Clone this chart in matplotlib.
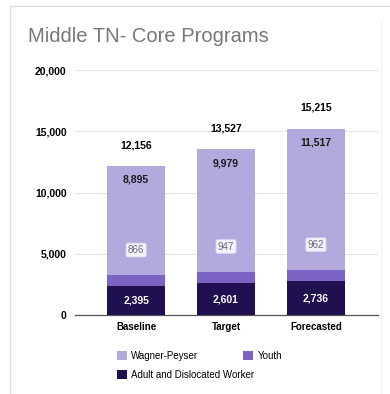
import numpy as np
import matplotlib.pyplot as plt
from matplotlib.lines import Line2D

plt.rcParams['font.family'] = ['Liberation Sans', 'DejaVu Sans']

categories = ['Baseline', 'Target', 'Forecasted']
adult = [2395, 2601, 2736]
youth = [866, 947, 962]
wagner = [8895, 9979, 11517]
yticks = [0, 5000, 10000, 15000, 20000]

c_wagner = '#b4a9dc'
c_youth = '#7a63c2'
c_adult = '#20104f'

fig = plt.figure(figsize=(3.9, 3.94), dpi=100)
# card outline: left and top edges, faint inner edge on the right
bx, by = 9.5 / 390, 1 - 5.5 / 394
fig.add_artist(Line2D([bx, bx], [0, by], transform=fig.transFigure, color='#dcdcdc', lw=1.0))
fig.add_artist(Line2D([bx, 1], [by, by], transform=fig.transFigure, color='#dcdcdc', lw=1.0))
fig.add_artist(Line2D([381 / 390, 381 / 390], [0, 1 - 20 / 394], transform=fig.transFigure,
                      color='#f0f0f0', lw=0.8))
fig.text(28 / 390, 1 - 37 / 394, 'Middle TN- Core Programs', fontsize=14.5, color='#777777',
         va='center', ha='left')

ax = fig.add_axes([75 / 390, 1 - 315 / 394, 303 / 390, 245 / 394])
x = np.arange(len(categories))
w = 0.64
b1 = ax.bar(x, adult, w, color=c_adult, label='Adult and Dislocated Worker', zorder=3)
b2 = ax.bar(x, youth, w, bottom=adult, color=c_youth, label='Youth', zorder=3)
base2 = np.array(adult) + np.array(youth)
b3 = ax.bar(x, wagner, w, bottom=base2, color=c_wagner, label='Wagner-Peyser', zorder=3)
totals = base2 + np.array(wagner)

for i in range(len(categories)):
    ax.text(x[i], adult[i] / 2, f'{adult[i]:,}', ha='center', va='center', color='white',
            fontsize=7.5, fontweight='bold', zorder=4)
    ax.annotate(f'{youth[i]:,}', (x[i], base2[i]), xytext=(0, 18), textcoords='offset points',
                ha='center', va='center', color='#6a6a80', fontsize=7, zorder=4,
                bbox=dict(boxstyle='round,pad=0.2', fc='white', ec='#d8d2ee', lw=0.6, alpha=0.85))
    ax.annotate(f'{wagner[i]:,}', (x[i], totals[i]), xytext=(0, -10), textcoords='offset points',
                ha='center', va='center', color='#1a1a1a', fontsize=7.5, fontweight='bold', zorder=4)
    ax.annotate(f'{totals[i]:,}', (x[i], totals[i]), xytext=(0, 15), textcoords='offset points',
                ha='center', va='center', color='black', fontsize=7.5, fontweight='bold', zorder=4)

ax.set_ylim(0, 20000)
ax.set_xlim(-0.68, 2.69)
ax.set_yticks(yticks)
ax.set_yticklabels([f'{v:,}' for v in yticks], fontsize=7.5, fontweight='bold')
ax.set_xticks(x)
ax.set_xticklabels(categories, fontsize=7, fontweight='bold')
ax.tick_params(axis='y', length=0, pad=6)
ax.tick_params(axis='x', length=0, pad=5)
ax.grid(axis='y', color='#e4e4e4', linewidth=0.8, zorder=0)
for s in ['top', 'right', 'left']:
    ax.spines[s].set_visible(False)
ax.spines['bottom'].set_color('#555555')
ax.spines['bottom'].set_linewidth(0.9)

# legend in two rows: Wagner-Peyser + Youth, then Adult
leg_kw = dict(loc='upper left', frameon=False, fontsize=7, handlelength=1.0, handleheight=1.0,
              handletextpad=0.5, borderpad=0)
leg1 = fig.legend([b3, b2], ['Wagner-Peyser', 'Youth'], ncol=2, columnspacing=4.6,
                  bbox_to_anchor=(112 / 390, 1 - 346 / 394), **leg_kw)
leg2 = fig.legend([b1], ['Adult and Dislocated Worker'], ncol=1,
                  bbox_to_anchor=(112 / 390, 1 - 365 / 394), **leg_kw)

fig.savefig('out.png', dpi=100)
